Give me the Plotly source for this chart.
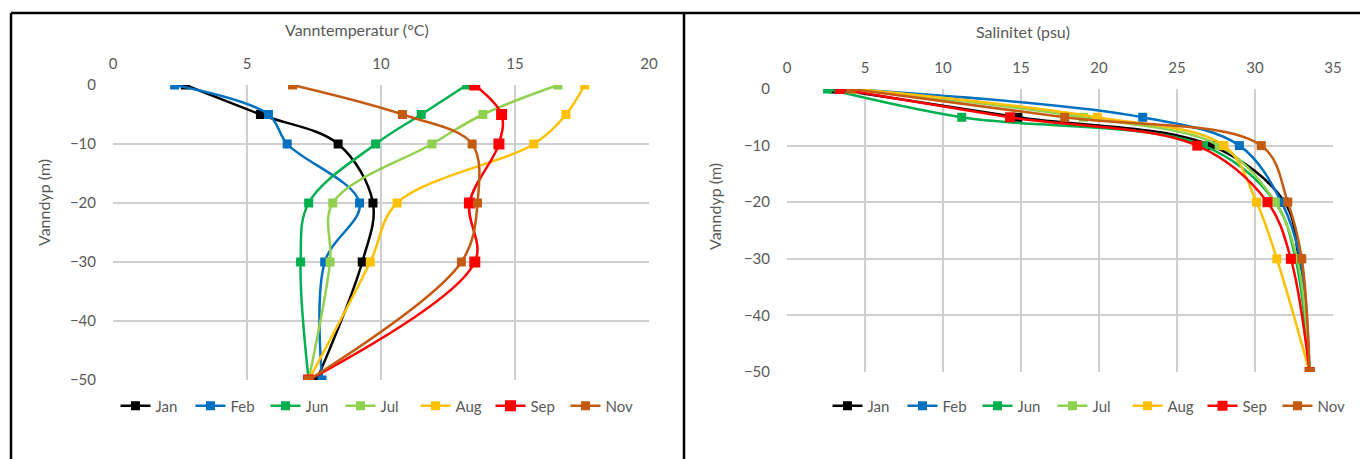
import plotly.graph_objects as go

# ---------------- data ----------------
depths = [0, -5, -10, -20, -30, -50]
months = ["Jan", "Feb", "Jun", "Jul", "Aug", "Sep", "Nov"]
colors = ["#000000", "#0070C0", "#00B050", "#92D050", "#FFC000", "#FF0000", "#C55A11"]

temp_jan = [2.7, 5.5, 8.4, 9.7, 9.3, 7.6]
temp_feb = [2.3, 5.8, 6.5, 9.2, 7.9, 7.8]
temp_jun = [13.2, 11.5, 9.8, 7.3, 7.0, 7.3]
temp_jul = [16.6, 13.8, 11.9, 8.2, 8.1, 7.3]
temp_aug = [17.6, 16.9, 15.7, 10.6, 9.6, 7.3]
temp_sep = [13.5, 14.5, 14.4, 13.3, 13.5, 7.3]
temp_nov = [6.7, 10.8, 13.4, 13.6, 13.0, 7.3]

sal_jan = [3.0, 14.8, 27.2, 31.9, 32.8, 33.5]
sal_feb = [3.9, 22.8, 29.0, 31.7, 32.9, 33.5]
sal_jun = [2.6, 11.2, 26.7, 31.3, 32.6, 33.5]
sal_jul = [4.2, 19.0, 27.7, 31.3, 32.7, 33.5]
sal_aug = [4.4, 19.9, 28.0, 30.1, 31.4, 33.5]
sal_sep = [3.4, 14.3, 26.3, 30.8, 32.3, 33.5]
sal_nov = [4.1, 17.8, 30.4, 32.1, 33.0, 33.5]

temps = [temp_jan, temp_feb, temp_jun, temp_jul, temp_aug, temp_sep, temp_nov]
sals = [sal_jan, sal_feb, sal_jun, sal_jul, sal_aug, sal_sep, sal_nov]

temp_ticks = [0, 5, 10, 15, 20]
sal_ticks = [0, 5, 10, 15, 20, 25, 30, 35]
depth_ticks = [0, -10, -20, -30, -40, -50]

# ---------------- figure ----------------
W, H = 1360, 459
FONT = "Lato, Open Sans, sans-serif"
TXT = "#595959"
GRID = "#CFCFCF"

fig = go.Figure()

for i, m in enumerate(months):
    msize = 11 if m == "Sep" else 9
    fig.add_trace(go.Scatter(
        x=temps[i], y=depths, mode="lines+markers", name=m,
        line=dict(color=colors[i], width=2.5, shape="spline", smoothing=1),
        marker=dict(symbol="square", size=msize, color=colors[i]),
        xaxis="x", yaxis="y", legend="legend"))
for i, m in enumerate(months):
    msize = 10 if m == "Sep" else 9
    fig.add_trace(go.Scatter(
        x=sals[i], y=depths, mode="lines+markers", name=m,
        line=dict(color=colors[i], width=2.5, shape="spline", smoothing=1),
        marker=dict(symbol="square", size=msize, color=colors[i]),
        xaxis="x2", yaxis="y2", legend="legend2"))

def px_x(p):
    return p / W

def px_y(p):
    return 1 - p / H

axis_common = dict(
    showgrid=True, gridcolor=GRID, gridwidth=1.5, zeroline=False,
    showline=False, tickfont=dict(family=FONT, size=15, color=TXT),
    ticks="outside", tickcolor="rgba(0,0,0,0)", fixedrange=True, automargin=False)

leg_common = dict(orientation="h", yanchor="middle",
                  font=dict(family=FONT, size=15, color=TXT), itemwidth=30,
                  entrywidth=30, entrywidthmode="pixels",
                  bgcolor="rgba(0,0,0,0)")

fig.update_layout(
    width=W, height=H, autosize=False,
    margin=dict(l=0, r=0, t=0, b=0, pad=0, autoexpand=False),
    paper_bgcolor="white", plot_bgcolor="white",
    font=dict(family=FONT, color=TXT, size=15),
    showlegend=True,
    xaxis=dict(domain=[px_x(113), px_x(649)], range=[0, 20], tickvals=temp_ticks,
               side="top", anchor="y", ticklen=9, **axis_common),
    yaxis=dict(domain=[px_y(380), px_y(85)], range=[-50, 0], tickvals=depth_ticks,
               anchor="x", ticklen=13, **axis_common),
    xaxis2=dict(domain=[px_x(787), px_x(1333)], range=[0, 35], tickvals=sal_ticks,
                side="top", anchor="y2", ticklen=9, **axis_common),
    yaxis2=dict(domain=[px_y(372), px_y(89)], range=[-50, 0], tickvals=depth_ticks,
                anchor="x2", ticklen=13, **axis_common),
    legend=dict(x=px_x(378), xanchor="center", y=px_y(406), **leg_common),
    legend2=dict(x=px_x(1090), xanchor="center", y=px_y(406), **leg_common),
)

# frame lines of the two chart panels
for (x0, y0, x1, y1) in [(11, 13, 1360, 13), (11, 13, 11, 459), (684, 13, 684, 459)]:
    fig.add_shape(type="line", xref="paper", yref="paper",
                  x0=px_x(x0), y0=px_y(y0), x1=px_x(x1), y1=px_y(y1),
                  line=dict(color="black", width=2.5))

# titles
ann = dict(xref="paper", yref="paper", showarrow=False, xanchor="center", yanchor="middle",
           font=dict(family=FONT, size=16, color=TXT))
fig.add_annotation(text="Vanntemperatur (°C)", x=px_x(357), y=px_y(30), **ann)
fig.add_annotation(text="Salinitet (psu)", x=px_x(1023), y=px_y(31), **ann)
fig.add_annotation(text="Vanndyp (m)", x=px_x(43), y=px_y(203), textangle=-90, **ann)
fig.add_annotation(text="Vanndyp (m)", x=px_x(715), y=px_y(207), textangle=-90, **ann)

fig.write_html("out.html", config={"displayModeBar": False},
               post_script="document.body.style.margin='0';document.body.style.overflow='hidden';")
